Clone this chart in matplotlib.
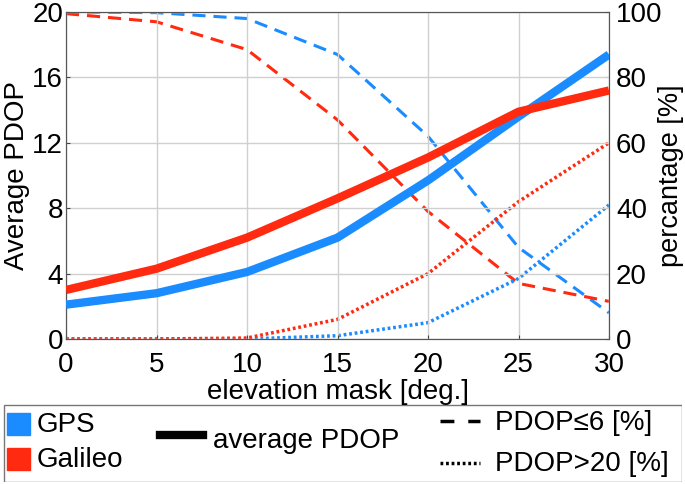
import matplotlib.pyplot as plt
from matplotlib.lines import Line2D
from matplotlib.patches import Rectangle

plt.rcParams['font.family'] = ['Liberation Sans', 'DejaVu Sans']

# ============================================================
# Data
# ============================================================

elev = [0, 5, 10, 15, 20, 25, 30]

gps_pdop = [2.1, 2.8, 4.1, 6.2, 9.7, 13.6, 17.4]
gal_pdop = [3.0, 4.3, 6.2, 8.6, 11.1, 13.9, 15.2]

gps_le6 = [100, 99.8, 98, 87, 62, 28, 8]
gal_le6 = [99.5, 97, 88.5, 67, 39, 17, 11.5]

gps_gt20 = [0, 0, 0, 1, 5, 18.5, 41]
gal_gt20 = [0, 0, 0.3, 6, 20, 42, 60]

BLUE = '#1a8cff'
RED = '#ff2a0f'

DASH = (0, (4.3, 2.6))
DOT = (0, (0.8, 0.8))
FS = 20

# ============================================================
# Plot
# ============================================================

fig = plt.figure(figsize=(6.85, 4.84), dpi=100)
ax = fig.add_axes([66 / 685, 1 - 339 / 484, 543 / 685, 327 / 484])
ax2 = ax.twinx()

ax2.plot(elev, gps_le6, color=BLUE, lw=2.2, ls=DASH)
ax2.plot(elev, gal_le6, color=RED, lw=2.2, ls=DASH)
ax2.plot(elev, gps_gt20, color=BLUE, lw=2.5, ls=DOT)
ax2.plot(elev, gal_gt20, color=RED, lw=2.5, ls=DOT)

ax.plot(elev, gps_pdop, color=BLUE, lw=6, solid_capstyle='butt', zorder=3)
ax.plot(elev, gal_pdop, color=RED, lw=6, solid_capstyle='butt', zorder=3)
# keep thick lines above the twin axis
ax.set_zorder(ax2.get_zorder() + 1)
ax.patch.set_visible(False)

ax.set_xlim(0, 30)
ax.set_ylim(0, 20)
ax.set_xticks(elev)
ax.set_yticks([0, 4, 8, 12, 16, 20])
ax2.set_ylim(0, 100)
ax2.set_yticks([0, 20, 40, 60, 80, 100])

ax.grid(True, color='#d0d0d0', lw=1)
ax.tick_params(axis='x', direction='in', length=3, labelsize=FS, pad=9, color='#444444')
ax.tick_params(axis='y', direction='in', length=3, labelsize=FS, pad=2, color='#444444')
ax2.tick_params(direction='in', length=3, labelsize=FS, pad=5, color='#444444')
for a in (ax, ax2):
    for s in a.spines.values():
        s.set_color('#555555')

ax.set_xlabel('elevation mask [deg.]', fontsize=FS, labelpad=1)
ax.set_ylabel('Average PDOP', fontsize=FS, labelpad=2)
ax2.set_ylabel('percantage [%]', fontsize=19.5, labelpad=-3)

# ============================================================
# Legend box (axes in image pixel coordinates)
# ============================================================

lg = fig.add_axes([3 / 685, 2 / 484, 679 / 685, 78 / 484])
lg.set_xlim(3, 682)
lg.set_ylim(482, 404)
lg.axis('off')
lg.add_patch(Rectangle((3.5, 404.5), 678, 77, fill=False, ec='#777777', lw=1))

lg.add_patch(Rectangle((7, 413), 23, 22, color=BLUE))
lg.add_patch(Rectangle((7, 448), 23, 22, color=RED))
lg.text(37, 425, 'GPS', fontsize=FS, va='center')
lg.text(37, 460, 'Galileo', fontsize=FS, va='center')

lg.add_line(Line2D([160, 203], [435, 435], color='black', lw=6))
lg.text(213, 441, 'average PDOP', fontsize=FS, va='center')

lg.add_line(Line2D([440, 480], [421, 421], color='black', lw=2.5, ls=(0, (4, 4))))
lg.add_line(Line2D([440, 480], [463, 463], color='black', lw=2.5, ls=DOT))
lg.text(495, 423, 'PDOP\u22646 [%]', fontsize=FS, va='center')
lg.text(495, 464, 'PDOP>20 [%]', fontsize=FS, va='center')

plt.savefig('out.png', dpi=100)
